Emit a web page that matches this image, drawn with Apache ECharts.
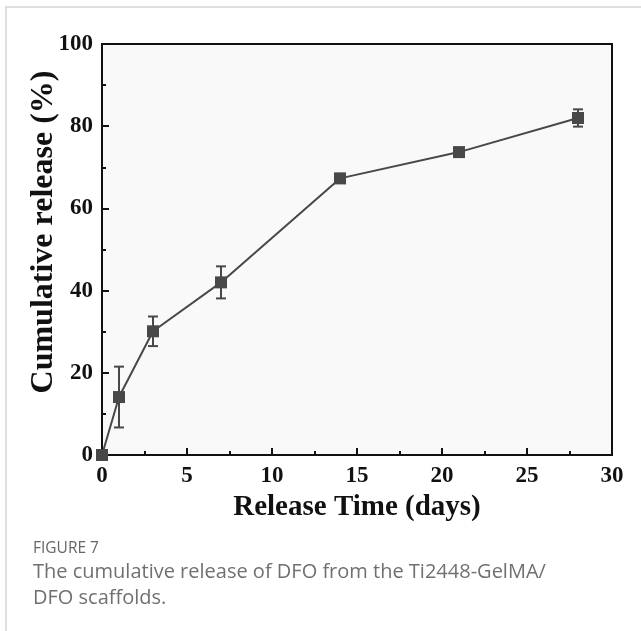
<!DOCTYPE html>
<html>
<head>
<meta charset="utf-8">
<script src="https://cdn.jsdelivr.net/npm/echarts@6/dist/echarts.min.js"></script>
<style>
    html, body {margin: 0; padding: 0; background: #ffffff;}
    #chartDiv {width: 641px; height: 631px;}
</style>
</head>
<body>
<div id="chartDiv"></div>
<script>
// 数据
var days = [0, 1, 3, 7, 14, 21, 28];
var release = [0, 14.1, 30.1, 42.0, 67.3, 73.7, 82.0];
var errors = [0, 7.4, 3.6, 3.9, 1.1, 0.6, 2.1];
var xTicks = [0, 5, 10, 15, 20, 25, 30];
var yTicks = [0, 20, 40, 60, 80, 100];

var lineColor = '#484848';
var serif = '"Liberation Serif", "DejaVu Serif", serif';
var captionFont = '"Open Sans", sans-serif';

var chartDiv = echarts.init(document.getElementById('chartDiv'));

var pointData = [];
var errorData = [];
for (var i = 0; i < days.length; i++) {
    pointData.push([days[i], release[i]]);
    errorData.push([days[i], release[i] - errors[i], release[i] + errors[i]]);
}

// 误差棒
function renderErrorBar(params, api) {
    var low = api.coord([api.value(0), api.value(1)]);
    var high = api.coord([api.value(0), api.value(2)]);
    var half = 5;
    var style = {stroke: lineColor, lineWidth: 2};
    return {
        type: 'group',
        children: [
            {type: 'line', shape: {x1: high[0], y1: high[1], x2: low[0], y2: low[1]}, style: style},
            {type: 'line', shape: {x1: high[0] - half, y1: high[1], x2: high[0] + half, y2: high[1]}, style: style},
            {type: 'line', shape: {x1: low[0] - half, y1: low[1], x2: low[0] + half, y2: low[1]}, style: style}
        ]
    };
}

var tickStyle = {color: '#111', width: 2};

var option = {
    animation: false,
    backgroundColor: '#ffffff',
    grid: {
        left: 102,
        right: 29,
        top: 44,
        bottom: 176,
        show: true,
        backgroundColor: '#f9f9f9',
        borderColor: '#111111',
        borderWidth: 2
    },
    xAxis: [
        {
            type: 'value',
            min: xTicks[0],
            max: xTicks[xTicks.length - 1],
            interval: 5,
            name: 'Release Time (days)',
            nameLocation: 'middle',
            nameGap: 38,
            nameTextStyle: {fontFamily: serif, fontWeight: 'bold', fontSize: 29, color: '#111'},
            axisLine: {show: true, onZero: false, lineStyle: tickStyle},
            axisTick: {show: true, inside: true, length: 7, lineStyle: tickStyle},
            axisLabel: {fontFamily: serif, fontWeight: 'bold', fontSize: 23, color: '#111', margin: 10},
            splitLine: {show: false}
        },
        {
            // 次刻度
            type: 'value',
            position: 'bottom',
            min: xTicks[0],
            max: xTicks[xTicks.length - 1],
            interval: 2.5,
            axisLine: {show: false, onZero: false},
            axisTick: {show: true, inside: true, length: 4, lineStyle: tickStyle},
            axisLabel: {show: false},
            splitLine: {show: false}
        }
    ],
    yAxis: [
        {
            type: 'value',
            min: yTicks[0],
            max: yTicks[yTicks.length - 1],
            interval: 20,
            axisLine: {show: true, onZero: false, lineStyle: tickStyle},
            axisTick: {show: true, inside: true, length: 7, lineStyle: tickStyle},
            axisLabel: {fontFamily: serif, fontWeight: 'bold', fontSize: 23, color: '#111', margin: 9},
            splitLine: {show: false}
        },
        {
            type: 'value',
            position: 'left',
            min: yTicks[0],
            max: yTicks[yTicks.length - 1],
            interval: 10,
            axisLine: {show: false, onZero: false},
            axisTick: {show: true, inside: true, length: 4, lineStyle: tickStyle},
            axisLabel: {show: false},
            splitLine: {show: false}
        }
    ],
    graphic: [
        // 外框线
        {type: 'line', shape: {x1: 5, y1: 7, x2: 641, y2: 7}, style: {stroke: '#d4d4d4', lineWidth: 1.5}},
        {type: 'line', shape: {x1: 6, y1: 7, x2: 6, y2: 631}, style: {stroke: '#d4d4d4', lineWidth: 1.5}},
        {
            type: 'text', x: 44, y: 232, rotation: Math.PI / 2,
            style: {text: 'Cumulative release (%)', fontFamily: serif, fontWeight: 'bold', fontSize: 32,
                fill: '#111', align: 'center', verticalAlign: 'middle'}
        },
        {type: 'text', left: 33, top: 541, style: {text: 'FIGURE 7', fontFamily: captionFont, fontSize: 15.5, fill: '#666666'}},
        {type: 'text', left: 33, top: 562, style: {text: 'The cumulative release of DFO from the Ti2448-GelMA/', fontFamily: captionFont, fontSize: 20, fill: '#707070'}},
        {type: 'text', left: 33, top: 588, style: {text: 'DFO scaffolds.', fontFamily: captionFont, fontSize: 20, fill: '#707070'}}
    ],
    series: [
        {
            type: 'custom',
            name: 'error',
            renderItem: renderErrorBar,
            data: errorData,
            z: 3
        },
        {
            type: 'line',
            name: 'release',
            data: pointData,
            symbol: 'rect',
            symbolSize: 12,
            showAllSymbol: true,
            lineStyle: {color: lineColor, width: 2},
            itemStyle: {color: lineColor},
            z: 4
        }
    ]
};

chartDiv.setOption(option);
</script>
</body>
</html>
